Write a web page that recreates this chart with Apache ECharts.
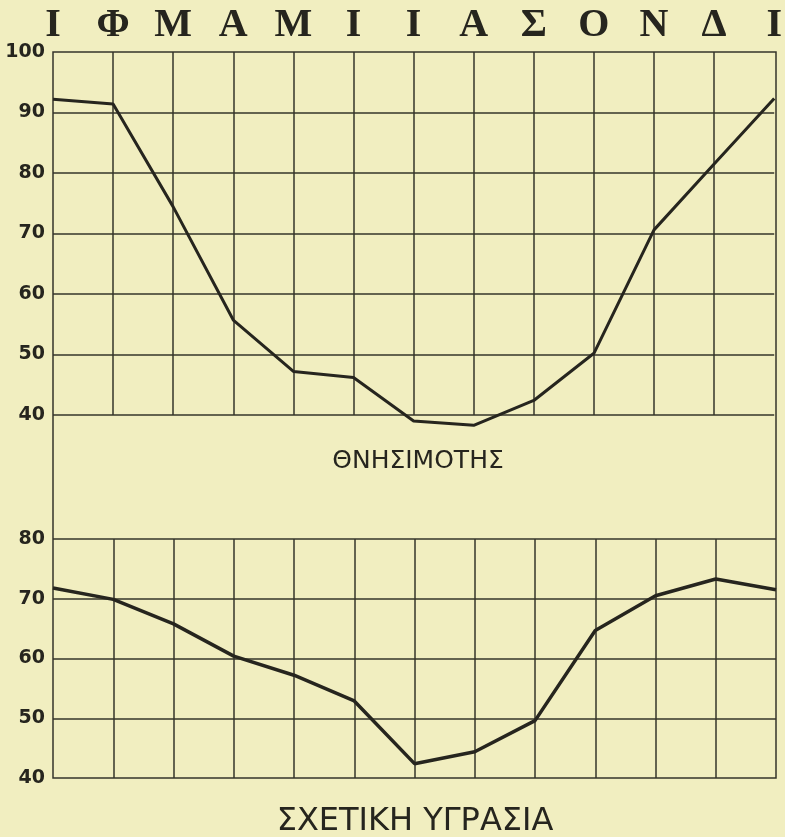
<!DOCTYPE html>
<html>
<head>
<meta charset="utf-8">
<script src="https://cdn.jsdelivr.net/npm/echarts@6/dist/echarts.min.js"></script>
<style>
html,body{margin:0;padding:0;background:#f1eec0;}
#c{width:785px;height:837px;}
</style>
</head>
<body>
<div id="c"></div>
<script>
var months = ['Ι','Φ','Μ','Α','Μ','Ι','Ι','Α','Σ','Ο','Ν','Δ','Ι'];
var mortality = [92.2, 91.4, 74.4, 55.7, 47.2, 46.2, 39.0, 38.3, 42.4, 50.2, 70.6, 81.5, 92.3];
var humidity = [71.8, 69.9, 65.8, 60.4, 57.2, 52.9, 42.4, 44.4, 49.6, 64.7, 70.5, 73.3, 71.5];
var mortalityTicks = [40, 100, 10];
var humidityTicks = [40, 80, 10];
var titleTop = 'ΘΝΗΣΙΜΟΤΗΣ';
var titleBottom = 'ΣΧΕΤΙΚΗ ΥΓΡΑΣΙΑ';

var ink = '#26251e';
var gridInk = '#35342a';
var chart = echarts.init(document.getElementById('c'));
function pts(arr){ return arr.map(function(v,i){ return [i, v]; }); }
var yLabel = {color: ink, fontFamily: 'DejaVu Sans', fontWeight: 'bold', fontSize: 19, margin: 8};
var gl = {color: gridInk, width: 1.5};
chart.setOption({
  backgroundColor: '#f1eec0',
  animation: false,
  title: [
    {text: titleTop, left: 413, top: 444, textAlign: 'center',
     textStyle: {fontFamily: 'DejaVu Sans', fontWeight: 'normal', fontSize: 25, color: ink}},
    {text: titleBottom, left: 410, top: 801, textAlign: 'center',
     textStyle: {fontFamily: 'DejaVu Sans', fontWeight: 'normal', fontSize: 32, color: ink}}
  ],
  grid: [
    {left: 53, right: 9, top: 52, height: 363, show: false},
    {left: 53, right: 9, top: 539, height: 239, show: false},
    {left: 53, right: 9, top: 52, height: 726, show: true, borderColor: gridInk, borderWidth: 1.5, backgroundColor: 'transparent'}
  ],
  xAxis: [
    {type: 'value', gridIndex: 0, position: 'top', min: 0, max: 12, interval: 1,
     axisLine: {show: false}, axisTick: {show: false},
     splitLine: {show: true, showMinLine: false, showMaxLine: false, lineStyle: gl},
     axisLabel: {show: true, margin: 6, color: ink, fontFamily: 'Liberation Serif', fontWeight: 'bold', fontSize: 40,
       formatter: function(v){ return months[v]; }}},
    {type: 'value', gridIndex: 1, min: 0, max: 12, interval: 1,
     axisLine: {show: false}, axisTick: {show: false}, axisLabel: {show: false},
     splitLine: {show: true, showMinLine: false, showMaxLine: false, lineStyle: gl}},
    {type: 'value', gridIndex: 2, min: 0, max: 1, show: false}
  ],
  yAxis: [
    {type: 'value', gridIndex: 0, min: mortalityTicks[0], max: mortalityTicks[1], interval: mortalityTicks[2],
     axisLine: {show: false}, axisTick: {show: false},
     splitLine: {show: true, showMaxLine: false, lineStyle: gl}, axisLabel: yLabel},
    {type: 'value', gridIndex: 1, min: humidityTicks[0], max: humidityTicks[1], interval: humidityTicks[2],
     axisLine: {show: false}, axisTick: {show: false},
     splitLine: {show: true, showMinLine: false, lineStyle: gl}, axisLabel: yLabel},
    {type: 'value', gridIndex: 2, min: 0, max: 1, show: false}
  ],
  series: [
    {type: 'line', xAxisIndex: 0, yAxisIndex: 0, data: pts(mortality), clip: false,
     symbol: 'none', lineStyle: {color: ink, width: 3}},
    {type: 'line', xAxisIndex: 1, yAxisIndex: 1, data: pts(humidity), clip: false,
     symbol: 'none', lineStyle: {color: ink, width: 3.5}}
  ]
});
</script>
</body>
</html>
